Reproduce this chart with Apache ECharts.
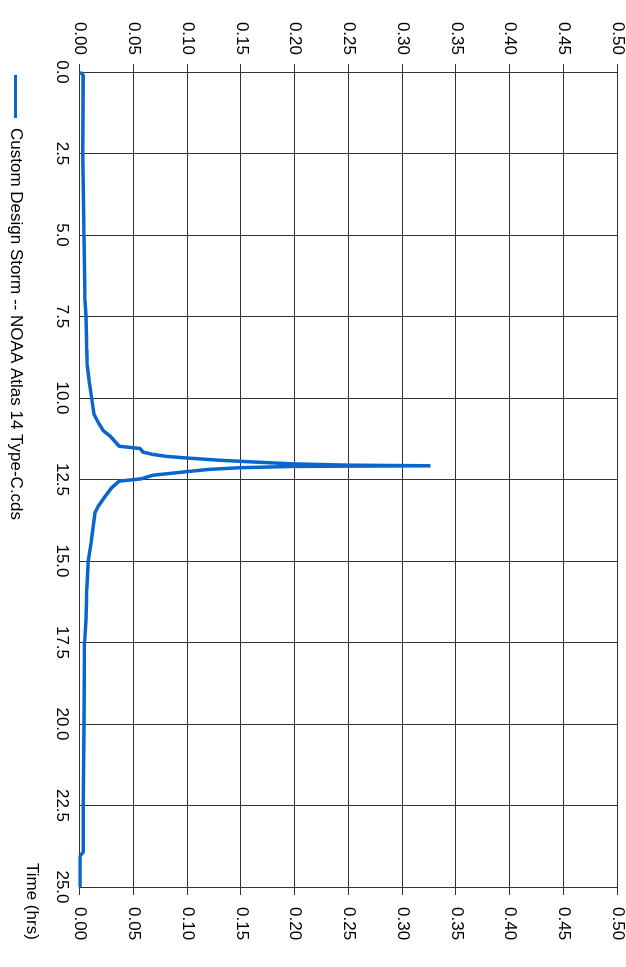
<!DOCTYPE html>
<html>
<head>
<meta charset="utf-8">
<script src="https://cdn.jsdelivr.net/npm/echarts@6/dist/echarts.min.js"></script>
<style>
  html, body { margin: 0; padding: 0; background: #fff; overflow: hidden; }
  /* the chart is drawn landscape and turned a quarter clockwise */
  #chart {
    position: absolute; left: 0; top: 0;
    width: 967px; height: 626px;
    transform-origin: 0 0;
    transform: translateX(626px) rotate(90deg);
  }
</style>
</head>
<body>
<div id="chart"></div>
<script>
var timeHrs = [0, 0.1, 2.5, 5.0, 7.0, 7.5, 8.5, 9.0, 9.5, 10.0, 10.5, 10.75, 11.0, 11.17, 11.33, 11.48,
  11.55, 11.66, 11.73, 11.79, 11.84, 11.91, 11.94, 12.02, 12.06, 12.08, 12.09, 12.1, 12.14, 12.19,
  12.26, 12.37, 12.48, 12.55, 12.76, 13.1, 13.32, 13.52, 13.93, 14.34, 15.0, 15.9, 16.8, 17.5,
  20.0, 22.5, 23.93, 23.99, 24.05, 25.0];
var rainfall = [0, 0.0030, 0.0026, 0.0037, 0.0047, 0.0055, 0.0062, 0.0068, 0.0086, 0.0108, 0.0130, 0.0170, 0.0216, 0.0280, 0.0324, 0.0364,
  0.0560, 0.0586, 0.0676, 0.0800, 0.0990, 0.1300, 0.1480, 0.1970, 0.2500, 0.3260, 0.2500, 0.1970, 0.1480, 0.1200,
  0.0990, 0.0676, 0.0570, 0.0364, 0.0293, 0.0216, 0.0170, 0.0139, 0.0123, 0.0108, 0.0077, 0.0062, 0.0056, 0.0043,
  0.0037, 0.0030, 0.0030, 0.0016, 0, 0];
var seriesName = 'Custom Design Storm -- NOAA Atlas 14 Type-C.cds';
var timeAxisName = 'Time (hrs)';

var font = "'Liberation Sans', Arial, sans-serif";
var gridColor = '#333';
var lineColor = '#0a66cc';

var points = timeHrs.map(function (t, i) { return [t, rainfall[i]]; });

var chart = echarts.init(document.getElementById('chart'));

function valueAxis(pos, margin, split) {
  return {
    type: 'value',
    position: pos,
    min: 0,
    max: 0.5,
    interval: 0.05,
    axisLine: { show: true, lineStyle: { color: gridColor, width: 1 } },
    axisTick: { show: true, length: 8, lineStyle: { color: gridColor, width: 1 } },
    axisLabel: {
      margin: margin,
      color: '#000',
      fontSize: 17,
      fontFamily: font,
      formatter: function (v) { return v.toFixed(2); }
    },
    splitLine: { show: split, lineStyle: { color: gridColor, width: 1 } }
  };
}

chart.setOption({
  animation: false,
  backgroundColor: '#fff',
  grid: { left: 72, right: 80, top: 6, bottom: 80, containLabel: false },
  legend: {
    left: 70,
    top: 597,
    icon: 'rect',
    itemWidth: 43,
    itemHeight: 3,
    textStyle: { color: '#000', fontSize: 17, fontFamily: font, padding: [0, 0, 0, 5] },
    data: [seriesName]
  },
  xAxis: {
    type: 'value',
    min: 0,
    max: 25,
    interval: 2.5,
    name: timeAxisName,
    nameLocation: 'end',
    nameGap: -24,
    nameTextStyle: { color: '#000', fontSize: 17, fontFamily: font, align: 'left', verticalAlign: 'top', padding: [40, 0, 0, 0] },
    axisLine: { show: true, lineStyle: { color: gridColor, width: 1 } },
    axisTick: { show: false },
    axisLabel: {
      margin: 10,
      color: '#000',
      fontSize: 17,
      fontFamily: font,
      formatter: function (v) { return v.toFixed(1); }
    },
    splitLine: { show: true, lineStyle: { color: gridColor, width: 1 } }
  },
  yAxis: [valueAxis('left', 17, true), valueAxis('right', 20, false)],
  series: [{
    name: seriesName,
    type: 'line',
    data: points,
    showSymbol: false,
    symbol: 'none',
    lineStyle: { color: lineColor, width: 3.5 },
    itemStyle: { color: lineColor }
  }]
});
</script>
</body>
</html>
